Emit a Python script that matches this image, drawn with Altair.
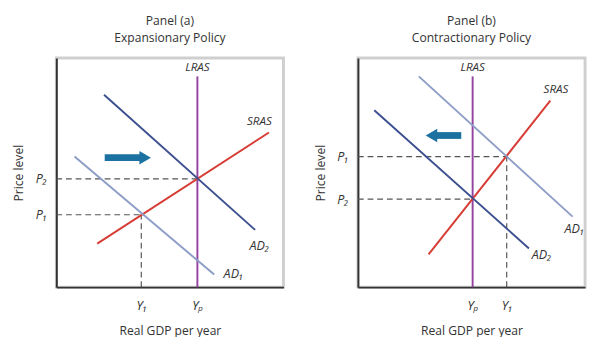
import altair as alt
import pandas as pd

FONT = "Open Sans, DejaVu Sans"

# ---------------- Panel (a): Expansionary Policy ----------------
a_curve_names = ["LRAS", "SRAS", "AD2", "AD1"]
a_curve_shade = ["lras", "sras", "dark", "light"]
a_curve_x0 = [62.1, 18.0, 21.0, 8.0]
a_curve_y0 = [0.0, 19.0, 84.0, 57.0]
a_curve_x1 = [62.1, 93.6, 87.5, 69.5]
a_curve_y1 = [92.0, 67.5, 25.0, 5.5]

a_dash_x0 = [0.0, 0.0, 37.4]
a_dash_y0 = [47.3, 31.6, 0.0]
a_dash_x1 = [62.1, 37.4, 37.4]
a_dash_y1 = [47.3, 31.6, 31.6]

a_label_text = ["LRAS", "SRAS", "AD₂", "AD₁"]
a_label_x = [62.1, 89.4, 89.4, 78.0]
a_label_y = [96.0, 72.6, 18.0, 5.5]

a_p_values = [31.6, 47.3]
a_p_labels = ["P₁", "P₂"]
a_y_values = [37.4, 62.1]
a_y_labels = ["Y₁", "Yₚ"]

a_arrow_start = 21.3
a_arrow_tip = 41.7
a_arrow_y = 56.5
a_arrow_dir = "right"

# ---------------- Panel (b): Contractionary Policy ----------------
b_curve_names = ["LRAS", "SRAS", "AD1", "AD2"]
b_curve_shade = ["lras", "sras", "light", "dark"]
b_curve_x0 = [50.5, 31.1, 26.8, 7.2]
b_curve_y0 = [0.0, 14.3, 92.0, 77.2]
b_curve_x1 = [50.5, 84.7, 94.5, 75.3]
b_curve_y1 = [92.0, 81.4, 30.8, 16.9]

b_dash_x0 = [0.0, 0.0, 65.5]
b_dash_y0 = [57.0, 38.4, 0.0]
b_dash_x1 = [65.5, 50.5, 65.5]
b_dash_y1 = [57.0, 38.4, 57.0]

b_label_text = ["LRAS", "SRAS", "AD₁", "AD₂"]
b_label_x = [50.5, 87.2, 95.3, 80.9]
b_label_y = [96.0, 86.5, 25.3, 14.0]

b_p_values = [38.4, 57.0]
b_p_labels = ["P₂", "P₁"]
b_y_values = [50.5, 65.5]
b_y_labels = ["Yₚ", "Y₁"]

b_arrow_start = 45.5
b_arrow_tip = 29.8
b_arrow_y = 66.2
b_arrow_dir = "left"

shade_domain = ["lras", "sras", "dark", "light"]
shade_range = ["#9444a0", "#d63c33", "#3c4f8f", "#8d9dc7"]
ARROW_COLOR = "#1b71a0"


def label_expr(values, labels):
    expr = "''"
    for v, l in zip(values, labels):
        expr = f"datum.value == {v} ? '{l}' : ({expr})"
    return expr


def panel(title, names, shade, cx0, cy0, cx1, cy1, dx0, dy0, dx1, dy1,
          lt, lx, ly, pv, pl, yv, yl, a_start, a_tip, a_y, a_dir):
    xs = alt.Scale(domain=[0, 100], nice=False, zero=False)
    ys = alt.Scale(domain=[0, 100], nice=False, zero=False)

    dash_df = pd.DataFrame({"x": dx0, "y": dy0, "x2": dx1, "y2": dy1})
    curve_df = pd.DataFrame({"name": names, "shade": shade, "x": cx0,
                             "y": cy0, "x2": cx1, "y2": cy1})
    lab_df = pd.DataFrame({"text": lt, "x": lx, "y": ly,
                           "size": [12 if t.isascii() else 13 for t in lt]})

    head_len = 2.6 if a_dir == "right" else -2.6
    shaft_df = pd.DataFrame({"x": [a_start], "x2": [a_tip - head_len], "y": [a_y]})
    head_df = pd.DataFrame({"x": [a_tip - head_len], "y": [a_y]})

    xaxis = alt.Axis(values=yv, labelExpr=label_expr(yv, yl), title="Real GDP per year",
                     ticks=False, grid=False, domainColor="#333", domainWidth=2,
                     labelFont=FONT, labelFontStyle="italic", labelFontSize=13,
                     labelColor="#333", labelPadding=13, titleFont=FONT,
                     titleFontSize=12.5, titleFontWeight="normal", titleColor="#333",
                     titlePadding=13)
    yaxis = alt.Axis(values=pv, labelExpr=label_expr(pv, pl), title="Price level",
                     ticks=False, grid=False, domainColor="#333", domainWidth=2,
                     labelFont=FONT, labelFontStyle="italic", labelFontSize=13,
                     labelColor="#333", labelPadding=10, titleFont=FONT,
                     titleFontSize=12.5, titleFontWeight="normal", titleColor="#333",
                     titlePadding=10)

    dash = alt.Chart(dash_df).mark_rule(color="#555", strokeDash=[6, 4],
                                        strokeWidth=1.2).encode(
        x=alt.X("x:Q", scale=xs, axis=xaxis),
        y=alt.Y("y:Q", scale=ys, axis=yaxis),
        x2="x2:Q", y2="y2:Q")

    curves = alt.Chart(curve_df).mark_rule(strokeWidth=2).encode(
        x=alt.X("x:Q", scale=xs), y=alt.Y("y:Q", scale=ys),
        x2="x2:Q", y2="y2:Q",
        color=alt.Color("shade:N", scale=alt.Scale(domain=shade_domain,
                                                   range=shade_range), legend=None))

    labels = alt.Chart(lab_df).mark_text(font=FONT, fontStyle="italic",
                                         color="#333").encode(
        x=alt.X("x:Q", scale=xs), y=alt.Y("y:Q", scale=ys), text="text:N",
        size=alt.Size("size:Q", scale=None, legend=None))

    shaft = alt.Chart(shaft_df).mark_rule(color=ARROW_COLOR, strokeWidth=7).encode(
        x=alt.X("x:Q", scale=xs), x2="x2:Q", y=alt.Y("y:Q", scale=ys))
    head = alt.Chart(head_df).mark_point(
        shape="triangle-" + a_dir, filled=True, color=ARROW_COLOR, size=190,
        opacity=1).encode(x=alt.X("x:Q", scale=xs), y=alt.Y("y:Q", scale=ys))

    return alt.layer(dash, curves, labels, shaft, head).properties(
        width=235, height=237,
        title=alt.TitleParams(title, fontSize=12.5, font=FONT, fontWeight="normal",
                              color="#333", lineHeight=17.5, offset=14, anchor="middle"))


pa = panel(["Panel (a)", "Expansionary Policy"], a_curve_names, a_curve_shade,
           a_curve_x0, a_curve_y0, a_curve_x1, a_curve_y1,
           a_dash_x0, a_dash_y0, a_dash_x1, a_dash_y1,
           a_label_text, a_label_x, a_label_y, a_p_values, a_p_labels,
           a_y_values, a_y_labels, a_arrow_start, a_arrow_tip, a_arrow_y, a_arrow_dir)
pb = panel(["Panel (b)", "Contractionary Policy"], b_curve_names, b_curve_shade,
           b_curve_x0, b_curve_y0, b_curve_x1, b_curve_y1,
           b_dash_x0, b_dash_y0, b_dash_x1, b_dash_y1,
           b_label_text, b_label_x, b_label_y, b_p_values, b_p_labels,
           b_y_values, b_y_labels, b_arrow_start, b_arrow_tip, b_arrow_y, b_arrow_dir)

chart = alt.hconcat(pa, pb, spacing=28).properties(
    padding={"left": 3, "top": 0, "right": 0, "bottom": 0},
    background="white",
).configure_view(stroke="#cfcfcf", strokeWidth=3)

chart.save("out.html", embed_options={"renderer": "svg", "actions": False})
